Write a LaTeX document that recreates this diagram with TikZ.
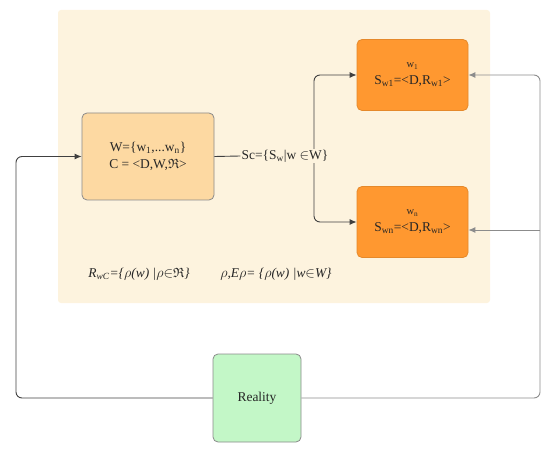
\documentclass[tikz,border=0pt]{standalone}
\usepackage{amssymb}
\usepackage{fontspec}
\setmainfont{Liberation Serif}
\usetikzlibrary{arrows.meta}
\definecolor{panel}{HTML}{FDF3DE}
\definecolor{cfill}{HTML}{FDD9A2}
\definecolor{ofill}{HTML}{FF9830}
\definecolor{gfill}{HTML}{C3F7C7}
\definecolor{bord}{HTML}{8A8A8A}
\tikzset{
  box/.style={draw=bord, line width=0.8pt, rounded corners=5bp, align=center, font=\fontsize{13.5}{17}\selectfont, text=black!85},
  cbox/.style={box, fill=cfill, minimum width=132bp, minimum height=87bp},
  obox/.style={box, draw=ofill!90!black, fill=ofill, minimum width=111bp, minimum height=71bp},
  rbox/.style={box, fill=gfill, minimum width=88bp, minimum height=88bp},
  tip/.style={-{Latex[length=7bp,width=6bp]}},
  dline/.style={draw=black!75, line width=0.9pt},
  gline/.style={draw=black!45, line width=0.9pt},
  lbl/.style={font=\fontsize{13.5}{16}\selectfont, text=black!85},
  ilbl/.style={font=\fontsize{13.5}{16}\selectfont\itshape, text=black!85}
}
\begin{document}
\begin{tikzpicture}[x=1bp,y=-1bp]
\useasboundingbox (0,0) rectangle (550,457);
\fill[panel, rounded corners=3bp] (58,10) rectangle (490,303);
\node[cbox] (C) at (148,156.5) {W=\{w\textsubscript{1},...w\textsubscript{n}\}\\C = <D,W,$\mathfrak{R}$>};
\node[obox] (w1) at (412.5,75) {{\fontsize{10.5}{12}\selectfont w\textsubscript{1}}\\S\textsubscript{w1}=<D,R\textsubscript{w1}>};
\node[obox] (wn) at (412.5,222) {{\fontsize{10.5}{12}\selectfont w\textsubscript{n}}\\S\textsubscript{wn}=<D,R\textsubscript{wn}>};
\node[rbox] (R) at (257,398) {Reality};
% fork
\coordinate (fk) at (314,156);
\draw[dline, tip, rounded corners=6bp] (fk) |- (w1.west);
\draw[dline, tip, rounded corners=6bp] (fk) |- (wn.west);
\node[lbl, fill=panel, inner sep=1bp] (sc) at (285,156) {Sc=\{S\textsubscript{w}|w ${\in}$W\}};
\draw[dline] (C.east) -- (sc.west);
% right loop
\coordinate (rb) at (540,398);
\coordinate (br) at (540,230);
\draw[gline, tip, rounded corners=6bp] (R.east) -- (rb) |- (w1.east);
\draw[gline, tip] (br) -- (br -| wn.east);
% left loop
\coordinate (lb) at (16,398);
\draw[dline, tip, rounded corners=6bp] (R.west) -- (lb) |- (C.west);
% formulas
\node[ilbl] (f1) at (139,274) {R\textsubscript{wC}=\{$\rho$(w) |$\rho{\in}\mathfrak{R}$\}};
\node[ilbl] (f2) at (276,274) {$\rho$,E$\rho$= \{$\rho$(w) |w${\in}$W\}};
\end{tikzpicture}
\end{document}
